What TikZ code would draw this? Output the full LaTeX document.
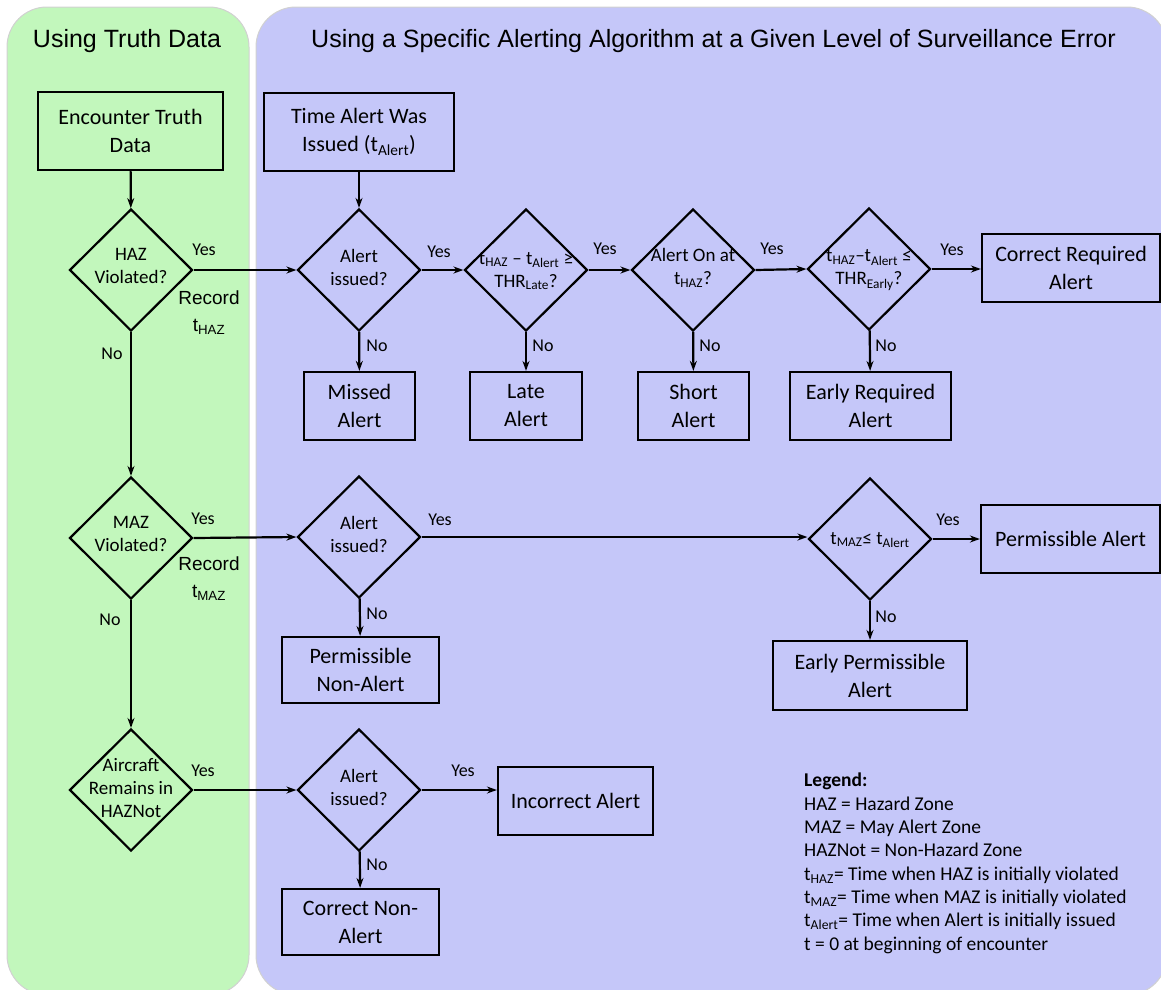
\documentclass[tikz,border=0pt]{standalone}
\usepackage{fontspec}
\setmainfont{Carlito}
\newfontfamily\arialf{Liberation Sans}
\usetikzlibrary{shapes.geometric,arrows.meta}
\definecolor{pgreen}{HTML}{C2F7BC}
\definecolor{pblue}{HTML}{C5C7F9}
\newcommand{\tsb}[1]{\textsubscript{#1}}
\begin{document}
\begin{tikzpicture}[x=1pt,y=-1pt,
 panel/.style={rounded corners=40pt, draw=black!18, line width=1pt},
 box/.style={draw, line width=2.2pt, rectangle, align=center, inner sep=0pt, font=\fontsize{22}{28}\selectfont},
 dia/.style={draw, diamond, line width=2.2pt, inner sep=0pt, minimum width=123pt, minimum height=122pt},
 dtext/.style={align=center, inner sep=0pt, font=\fontsize{19}{23}\selectfont},
 lab/.style={inner sep=0pt, font=\fontsize{18}{22}\selectfont},
 rec/.style={inner sep=0pt, align=center, font=\arialf\fontsize{19}{27}\selectfont},
 ttl/.style={inner sep=0pt, font=\arialf\fontsize{25}{30}\selectfont},
 arr/.style={line width=2.2pt, -{Stealth[length=10pt,width=7pt]}},
 leg/.style={inner sep=0pt, align=left, font=\fontsize{19.5}{23.3}\selectfont}
]
\useasboundingbox (0,0) rectangle (1161,989);
% panels
\path[panel, fill=pgreen] (7,7) rectangle (249,995);
\path[panel, fill=pblue] (256,7) rectangle (1167,995);
% titles
\node[ttl] (t1) at (127,41) {Using Truth Data};
\node[ttl] (t2) at (713.5,41) {Using a Specific Alerting Algorithm at a Given Level of Surveillance Error};
% boxes
\node[box, minimum width=185pt, minimum height=78pt] (enc) at (130.5,131) {Encounter Truth\\Data};
\node[box, minimum width=190pt, minimum height=78pt] (timeb) at (359,132) {Time Alert Was\\Issued (t\tsb{Alert})};
\node[box, minimum width=111pt, minimum height=68pt] (missed) at (359.5,406) {Missed\\Alert};
\node[box, minimum width=112pt, minimum height=68pt] (late) at (526,406) {Late\\Alert};
\node[box, minimum width=111pt, minimum height=68pt] (short) at (693.5,406) {Short\\Alert};
\node[box, minimum width=161pt, minimum height=68pt] (earlyreq) at (870.5,406) {Early Required\\Alert};
\node[box, minimum width=178pt, minimum height=68pt] (correq) at (1071,268) {Correct Required\\Alert};
\node[box, minimum width=179pt, minimum height=68pt] (permalert) at (1070.5,539) {Permissible Alert};
\node[box, minimum width=194pt, minimum height=69pt] (earlyperm) at (870,675.5) {Early Permissible\\Alert};
\node[box, minimum width=157pt, minimum height=66pt] (permnon) at (360.5,670) {Permissible\\Non-Alert};
\node[box, minimum width=155pt, minimum height=68pt] (incorrect) at (575.5,801) {Incorrect Alert};
\node[box, minimum width=157pt, minimum height=66pt] (correctnon) at (360.5,922) {Correct Non-\\Alert};
% diamonds
\node[dia] (haz) at (131,270) {};
\node[dia] (mazd) at (131,538) {};
\node[dia] (air) at (131,790) {};
\node[dia] (ai1) at (359,270) {};
\node[dia] (d2) at (526,270) {};
\node[dia] (d3) at (693,270) {};
\node[dia] (d4) at (869,269) {};
\node[dia] (ai2) at (359,537) {};
\node[dia] (dmaz) at (870,539) {};
\node[dia] (ai3) at (359,790) {};
% diamond texts
\node[dtext] (hazt) at (131,266) {HAZ\\Violated?};
\node[dtext] (mazdt) at (131,534) {MAZ\\Violated?};
\node[dtext] (airt) at (131,788) {Aircraft\\Remains in\\HAZNot};
\node[dtext] (ai1t) at (359,267) {Alert\\issued?};
\node[dtext] (d2t) at (526,271) {t\tsb{HAZ} -- t\tsb{Alert} ≥\\THR\tsb{Late}?};
\node[dtext] (d3t) at (693,268) {Alert On at\\t\tsb{HAZ}?};
\node[dtext] (d4t) at (869,270) {t\tsb{HAZ}--t\tsb{Alert} ≤\\THR\tsb{Early}?};
\node[dtext] (ai2t) at (359,534) {Alert\\issued?};
\node[dtext] (dmazt) at (870,540) {t\tsb{MAZ}≤ t\tsb{Alert}};
\node[dtext] (ai3t) at (359,787) {Alert\\issued?};
% connectors
\draw[arr] (enc) -- (haz);
\draw[arr] (timeb) -- (ai1);
\draw[arr] (haz) -- (mazd);
\draw[arr] (mazd) -- (air);
\draw[arr] (haz.east) -- (ai1.west);
\draw[arr] (ai1) -- (missed);
\draw[arr] (ai1.east) -- (d2.west);
\draw[arr] (d2) -- (late);
\draw[arr] (d2.east) -- (d3.west);
\draw[arr] (d3) -- (short);
\draw[arr] (d3.east) -- (d4.west);
\draw[arr] (d4) -- (earlyreq);
\draw[arr] (d4.east) -- (d4.east -| correq.west);
\draw[arr] (mazd.east) -- (ai2.west);
\draw[arr] (ai2) -- (permnon);
\draw[arr] (ai2.east) -- (ai2.east -| dmaz.west);
\draw[arr] (dmaz.east) -- (dmaz.east -| permalert.west);
\draw[arr] (dmaz) -- (earlyperm);
\draw[arr] (air.east) -- (ai3.west);
\draw[arr] (ai3.east) -- (ai3.east -| incorrect.west);
\draw[arr] (ai3) -- (correctnon);
% labels
\node[lab] (y1) at (204,250) {Yes};
\node[lab] (y2) at (439,252) {Yes};
\node[lab] (y3) at (605,249) {Yes};
\node[lab] (y4) at (772,249) {Yes};
\node[lab] (y5) at (952,250) {Yes};
\node[lab] (y6) at (203,519) {Yes};
\node[lab] (y7) at (440,520) {Yes};
\node[lab] (y8) at (948,520) {Yes};
\node[lab] (y9) at (203,771) {Yes};
\node[lab] (y10) at (463,771) {Yes};
\node[lab] (n1) at (112,354) {No};
\node[lab] (n2) at (110,620) {No};
\node[lab] (n3) at (377,346) {No};
\node[lab] (n4) at (543,346) {No};
\node[lab] (n5) at (710,346) {No};
\node[lab] (n6) at (886,346) {No};
\node[lab] (n7) at (377,614) {No};
\node[lab] (n8) at (886,617) {No};
\node[lab] (n9) at (377,865) {No};
\node[rec] (r1) at (209,313) {Record\\t\tsb{HAZ}};
\node[rec] (r2) at (209,579) {Record\\t\tsb{MAZ}};
% legend
\node[leg, anchor=north west] (legend) at (804,773) {\textbf{Legend:}\\
HAZ = Hazard Zone\\
MAZ = May Alert Zone\\
HAZNot = Non-Hazard Zone\\
t\tsb{HAZ}= Time when HAZ is initially violated\\
t\tsb{MAZ}= Time when MAZ is initially violated\\
t\tsb{Alert}= Time when Alert is initially issued\\
t = 0 at beginning of encounter};
\end{tikzpicture}
\end{document}
